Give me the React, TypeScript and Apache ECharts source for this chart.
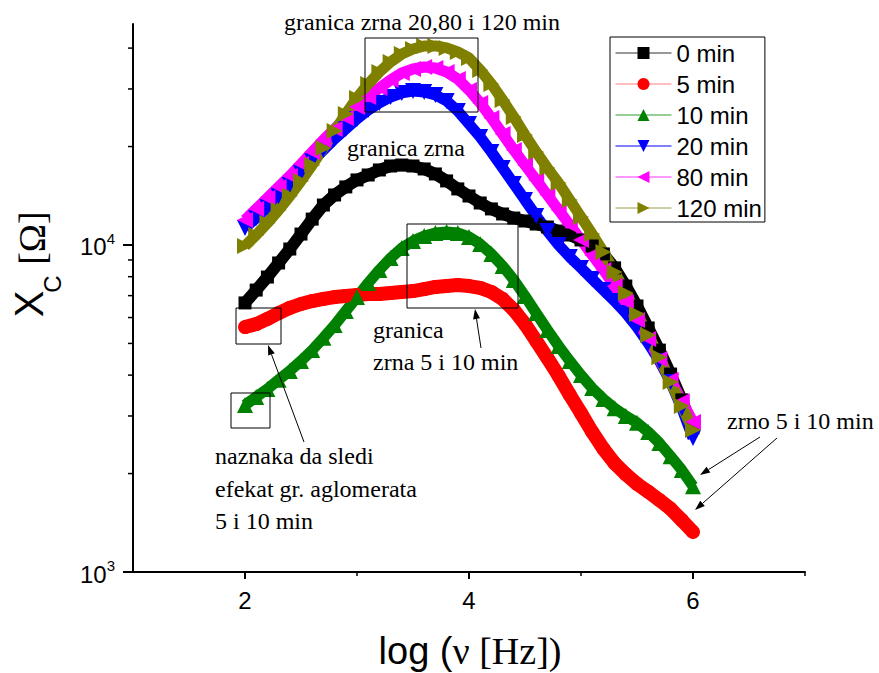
import React, { useEffect, useRef } from "react";
import * as echarts from "echarts";

// log(frequency / Hz)
const logFreq = [
  2.0, 2.1, 2.2, 2.3, 2.4, 2.5, 2.6, 2.7, 2.8, 2.9,
  3.0, 3.1, 3.2, 3.3, 3.4, 3.5, 3.6, 3.7, 3.8, 3.9,
  4.0, 4.1, 4.2, 4.3, 4.4, 4.5, 4.6, 4.7, 4.8, 4.9,
  5.0, 5.1, 5.2, 5.3, 5.4, 5.5, 5.6, 5.7, 5.8, 5.9, 6.0,
];

// X_C [Ohm]
const min0 = [
  6650, 7280, 7980, 8810, 9720, 10800, 12000, 13250, 14220, 15050,
  15810, 16370, 16960, 17440, 17560, 17440, 17080, 16490, 15700, 14840,
  14120, 13440, 12890, 12440, 12090, 11840, 11590, 11350, 11030, 10730,
  10360, 9930, 9390, 8510, 7490, 6510, 5575, 4770, 4030, 3360, 2760,
];
const min5 = [
  5610, 5730, 5940, 6190, 6420, 6600, 6740, 6840, 6930, 6980,
  7030, 7080, 7080, 7130, 7180, 7230, 7330, 7440, 7490, 7540,
  7490, 7390, 7180, 6840, 6330, 5730, 5090, 4510, 3980, 3480,
  3060, 2680, 2380, 2150, 1990, 1860, 1760, 1660, 1560, 1440, 1325,
];
const min10 = [
  3240, 3430, 3630, 3870, 4120, 4420, 4770, 5200, 5690, 6280,
  6930, 7650, 8390, 9120, 9790, 10280, 10650, 10880, 10960, 10880,
  10580, 10070, 9390, 8630, 7820, 6980, 6190, 5500, 4910, 4420,
  4000, 3650, 3380, 3170, 3000, 2860, 2680, 2480, 2260, 2050, 1830,
];
const min20 = [
  11270, 12090, 13070, 14120, 15260, 16600, 18070, 19520, 21100, 22630,
  24280, 25870, 27190, 28360, 29170, 29580, 29370, 28750, 27570, 25690,
  23440, 21390, 19250, 17200, 15370, 13730, 12270, 11030, 10000, 9190,
  8510, 7870, 7280, 6740, 6190, 5610, 5010, 4420, 3810, 3170, 2570,
];
const min80 = [
  11930, 12890, 13920, 15050, 16260, 17690, 19250, 20950, 22630, 24460,
  26420, 28360, 30210, 31960, 33570, 34530, 35020, 34780, 33810, 32190,
  29790, 27190, 24460, 21850, 19520, 17560, 15810, 14220, 12790, 11510,
  10360, 9320, 8390, 7490, 6690, 5900, 5160, 4480, 3870, 3330, 2875,
];
const min120 = [
  9930, 10730, 11670, 12790, 14120, 15700, 17560, 19800, 22320, 25150,
  28150, 31080, 33810, 36270, 38380, 39760, 40610, 40610, 40050, 38940,
  37330, 34300, 31080, 27760, 24630, 21700, 19250, 17200, 15470, 13730,
  12180, 10800, 9520, 8270, 7130, 6150, 5310, 4540, 3810, 3220, 2720,
];

const seriesNames = ["0 min", "5 min", "10 min", "20 min", "80 min", "120 min"];
const seriesValues = [min0, min5, min10, min20, min80, min120];

const xLabelValues = [2, 4, 6];
const xMinorTicks = [3, 5, 7];
const yMajorTicks = [1000, 10000];
const yMinorTicks = [2000, 3000, 4000, 5000, 6000, 7000, 8000, 9000, 20000, 30000, 40000];

const colors = ["#000000", "#ff0000", "#008000", "#0000ff", "#ff00ff", "#808000"];
const legendLineColors = ["#333333", "#ff7f7f", "#2f9a2f", "#0000ff", "#ff33ff", "#9c9c4c"];
const symbols = ["rect", "circle", "triangle", "triangle", "triangle", "triangle"];
const symbolRotates = [0, 0, 0, 180, 90, -90];
const symbolSizes = [13, 14, 16, 16, 16, 16];
const bandWidths = [12, 14, 11, 11, 11, 11];

const SANS = "Liberation Sans";
const SERIF = "Liberation Serif";

function arrow(x1: number, y1: number, x2: number, y2: number) {
  const ang = Math.atan2(y2 - y1, x2 - x1);
  const L = 10;
  const W = 3.5;
  const bx = x2 - L * Math.cos(ang);
  const by = y2 - L * Math.sin(ang);
  const nx = -Math.sin(ang);
  const ny = Math.cos(ang);
  return [
    { type: "line", z: 100, shape: { x1, y1, x2: bx, y2: by }, style: { stroke: "#000", lineWidth: 1 } },
    {
      type: "polygon",
      z: 100,
      shape: { points: [[x2, y2], [bx + nx * W, by + ny * W], [bx - nx * W, by - ny * W]] },
      style: { fill: "#000" },
    },
  ];
}

function serifText(text: string, x: number, y: number, align = "left") {
  return {
    type: "text",
    z: 100,
    x,
    y,
    style: { text, fontFamily: SERIF, fontSize: 24, fill: "#000", align, verticalAlign: "middle" },
  };
}

function box(x: number, y: number, w: number, h: number) {
  return {
    type: "rect",
    z: 100,
    shape: { x, y, width: w, height: h },
    style: { fill: "none", stroke: "#000", lineWidth: 1 },
  };
}

export default function App() {
  const ref = useRef<HTMLDivElement>(null);

  useEffect(() => {
    if (!ref.current) return;
    const chart = echarts.init(ref.current, null, { renderer: "svg" });

    const option: any = {
      animation: false,
      backgroundColor: "#ffffff",
      grid: { left: 133, top: 24, right: 74, bottom: 101 },
      xAxis: {
        type: "value",
        min: 1,
        max: 7,
        interval: 1,
        axisLine: { show: true, onZero: false, lineStyle: { color: "#000", width: 2 } },
        axisTick: { show: false },
        splitLine: { show: false },
        axisLabel: {
          margin: 16,
          color: "#000",
          fontFamily: SANS,
          fontSize: 24,
          formatter: (v: number) => (xLabelValues.includes(v) ? String(v) : ""),
        },
      },
      yAxis: {
        type: "log",
        logBase: 10,
        min: 1000,
        max: 47400,
        axisLine: { show: true, onZero: false, lineStyle: { color: "#000", width: 2 } },
        axisTick: { show: false },
        splitLine: { show: false },
        minorTick: { show: false },
        axisLabel: {
          margin: 18,
          formatter: (v: number) => {
            const e = Math.log10(v);
            const r = Math.round(e);
            if (Math.abs(e - r) > 1e-6) return "";
            if (!yMajorTicks.includes(Math.pow(10, r))) return "";
            return `{b|10}{s|${r}}`;
          },
          rich: {
            b: { fontFamily: SANS, fontSize: 24, color: "#000", lineHeight: 28, verticalAlign: "bottom" },
            s: { fontFamily: SANS, fontSize: 15, color: "#000", lineHeight: 15, verticalAlign: "top" },
          },
        },
      },
      legend: {
        orient: "vertical",
        left: 610,
        top: 37,
        backgroundColor: "#ffffff",
        borderColor: "#000",
        borderWidth: 1,
        borderRadius: 0,
        padding: [4, 3, 2, 5],
        itemWidth: 56,
        itemHeight: 15,
        itemGap: 7,
        selectedMode: false,
        lineStyle: { width: 1 },
        textStyle: { fontFamily: SANS, fontSize: 24, color: "#000", lineHeight: 24 },
        data: seriesNames.map((n, i) => ({
          name: n,
          lineStyle: { width: 1, color: legendLineColors[i] },
        })),
      },
      series: seriesNames.map((name, i) => ({
        name,
        type: "line",
        data: logFreq.map((x, k) => [x, seriesValues[i][k]]),
        symbol: symbols[i],
        symbolSize: symbolSizes[i],
        symbolRotate: symbolRotates[i],
        showSymbol: true,
        silent: true,
        itemStyle: { color: colors[i], borderWidth: 0 },
        lineStyle: { color: colors[i], width: bandWidths[i] },
        emphasis: { disabled: true },
      })),
    };

    chart.setOption(option);

    const toPx = (x: number, y: number) => chart.convertToPixel({ gridIndex: 0 }, [x, y]) as number[];

    const ticks: any[] = [];
    yMajorTicks.forEach((v) => {
      const p = toPx(1, v);
      ticks.push({ type: "line", z: 50, shape: { x1: p[0] - 10, y1: p[1], x2: p[0], y2: p[1] }, style: { stroke: "#000", lineWidth: 2 } });
    });
    yMinorTicks.forEach((v) => {
      const p = toPx(1, v);
      ticks.push({ type: "line", z: 50, shape: { x1: p[0] - 5, y1: p[1], x2: p[0], y2: p[1] }, style: { stroke: "#000", lineWidth: 1.5 } });
    });
    xLabelValues.forEach((v) => {
      const p = toPx(v, 1000);
      ticks.push({ type: "line", z: 50, shape: { x1: p[0], y1: p[1], x2: p[0], y2: p[1] + 7 }, style: { stroke: "#000", lineWidth: 2 } });
    });
    xMinorTicks.forEach((v) => {
      const p = toPx(v, 1000);
      ticks.push({ type: "line", z: 50, shape: { x1: p[0], y1: p[1], x2: p[0], y2: p[1] + 4 }, style: { stroke: "#000", lineWidth: 1.5 } });
    });

    const titles: any[] = [
      {
        type: "text",
        z: 100,
        x: 29,
        y: 304,
        rotation: Math.PI / 2,
        style: { text: "X", fontFamily: SANS, fontSize: 40, fill: "#000", align: "center", verticalAlign: "middle" },
      },
      {
        type: "text",
        z: 100,
        x: 52,
        y: 284,
        rotation: Math.PI / 2,
        style: { text: "C", fontFamily: SANS, fontSize: 24, fill: "#000", align: "center", verticalAlign: "middle" },
      },
      {
        type: "text",
        z: 100,
        x: 32,
        y: 238,
        rotation: Math.PI / 2,
        style: { text: "[Ω]", fontFamily: SERIF, fontSize: 38, fill: "#000", align: "center", verticalAlign: "middle" },
      },
      {
        type: "text",
        z: 100,
        x: 470,
        y: 651,
        style: {
          text: "{a|log (}{b|ν [Hz])}",
          align: "center",
          verticalAlign: "middle",
          rich: {
            a: { fontFamily: SANS, fontSize: 38, fill: "#000", color: "#000" },
            b: { fontFamily: SERIF, fontSize: 38, fill: "#000", color: "#000" },
          },
        },
      },
    ];

    const notes: any[] = [
      serifText("granica zrna 20,80 i 120 min", 422, 22, "center"),
      serifText("granica zrna", 406, 148, "center"),
      serifText("granica", 373, 330),
      serifText("zrna 5 i 10 min", 373, 362),
      serifText("naznaka da sledi", 215, 456),
      serifText("efekat gr. aglomerata", 215, 489),
      serifText("5 i 10 min", 215, 521),
      serifText("zrno 5 i 10 min", 727, 421),
      box(365, 38, 113, 74),
      box(407, 224, 111, 84),
      box(236, 308, 45, 36),
      box(231, 393, 39, 35),
      ...arrow(304, 442, 268, 345),
      ...arrow(481, 348, 475, 309),
      ...arrow(760, 437, 700, 475),
      ...arrow(777, 438, 695, 510),
    ];

    chart.setOption({ graphic: [...ticks, ...titles, ...notes] });

    return () => {
      chart.dispose();
    };
  }, []);

  return (
    <div
      ref={ref}
      style={{ position: "fixed", left: 0, top: 0, width: 879, height: 673, background: "#fff" }}
    />
  );
}
